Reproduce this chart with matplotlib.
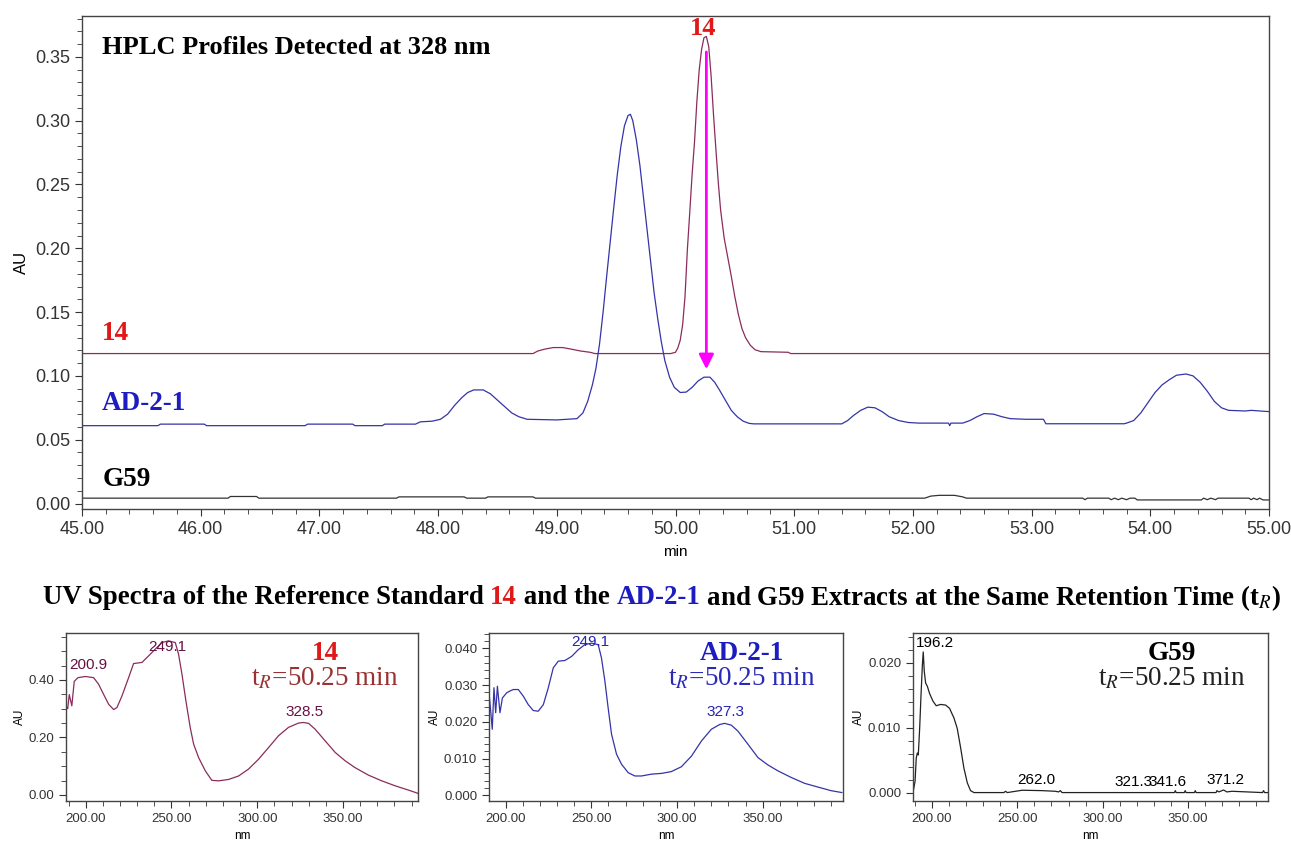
import numpy as np
import matplotlib
matplotlib.use("Agg")
import matplotlib.pyplot as plt
from matplotlib.ticker import MultipleLocator, FormatStrFormatter

plt.rcParams['font.family'] = ['Liberation Sans', 'DejaVu Sans']
plt.rcParams['mathtext.fontset'] = 'stix'

# HPLC traces at 328 nm (time in min, absorbance in AU)
t_14 = [45.0, 48.80, 48.84, 48.90, 48.97, 49.05, 49.12, 49.20, 49.28, 49.32, 49.96, 50.00, 50.02,
        50.04, 50.06, 50.08, 50.10, 50.12, 50.14, 50.16, 50.18, 50.20, 50.22, 50.24, 50.26, 50.28,
        50.30, 50.32, 50.34, 50.36, 50.38, 50.41, 50.44, 50.47, 50.50, 50.53, 50.56, 50.59, 50.63,
        50.67, 50.72, 50.95, 50.97, 55.0]
au_14 = [0.1175, 0.1175, 0.1195, 0.1210, 0.1222, 0.1222, 0.1210, 0.1195, 0.1185, 0.1175, 0.1175, 0.1185, 0.122,
         0.128, 0.140, 0.162, 0.199, 0.228, 0.258, 0.283, 0.315, 0.340, 0.356, 0.365, 0.366, 0.358,
         0.335, 0.305, 0.278, 0.252, 0.230, 0.208, 0.193, 0.178, 0.162, 0.148, 0.137, 0.130, 0.124,
         0.1205, 0.119, 0.1185, 0.1175, 0.1175]

t_ad = [45.0, 45.64, 45.66, 46.03, 46.05, 46.88, 46.90, 47.28, 47.30, 47.53, 47.55, 47.81, 47.85,
        47.95, 48.02, 48.08, 48.14, 48.20, 48.25, 48.30, 48.38, 48.44, 48.50, 48.56, 48.62, 48.68,
        48.75, 49.00, 49.17, 49.22, 49.26, 49.30, 49.33, 49.36, 49.39, 49.42, 49.45, 49.48, 49.51,
        49.54, 49.57, 49.60, 49.62, 49.64, 49.67, 49.70, 49.73, 49.76, 49.79, 49.82, 49.85, 49.88,
        49.91, 49.95, 49.99, 50.04, 50.09, 50.14, 50.19, 50.24, 50.29, 50.33, 50.37, 50.42, 50.47,
        50.52, 50.57, 50.62, 50.66, 51.40, 51.45, 51.50, 51.56, 51.62, 51.68, 51.74, 51.80, 51.88,
        51.96, 52.05, 52.30, 52.31, 52.32, 52.42, 52.48, 52.54, 52.60, 52.68, 52.75, 52.82, 52.95,
        53.10, 53.12, 53.78, 53.80, 53.86, 53.92, 53.98, 54.04, 54.10, 54.16, 54.22, 54.30, 54.36,
        54.42, 54.48, 54.54, 54.60, 54.66, 54.80, 54.85, 55.0]
au_ad = [0.061, 0.061, 0.0622, 0.0622, 0.061, 0.061, 0.0622, 0.0622, 0.061, 0.061, 0.0622, 0.0622, 0.064,
         0.0645, 0.066, 0.070, 0.077, 0.083, 0.087, 0.089, 0.089, 0.086, 0.081, 0.076, 0.071, 0.068,
         0.066, 0.0655, 0.0665, 0.071, 0.080, 0.093, 0.106, 0.125, 0.150, 0.178, 0.205, 0.232, 0.258,
         0.280, 0.296, 0.304, 0.305, 0.300, 0.285, 0.265, 0.240, 0.215, 0.190, 0.165, 0.145, 0.127,
         0.112, 0.099, 0.091, 0.087, 0.0873, 0.091, 0.096, 0.099, 0.099, 0.095, 0.089, 0.081, 0.073,
         0.068, 0.0645, 0.0628, 0.0624, 0.0624, 0.065, 0.069, 0.073, 0.0755, 0.075, 0.072, 0.068, 0.065,
         0.0635, 0.063, 0.063, 0.061, 0.063, 0.063, 0.065, 0.068, 0.0705, 0.070, 0.068, 0.0665, 0.066,
         0.066, 0.0625, 0.0625, 0.063, 0.065, 0.071, 0.079, 0.087, 0.093, 0.097, 0.1005, 0.1015, 0.100,
         0.095, 0.088, 0.080, 0.075, 0.073, 0.0725, 0.073, 0.072]

t_g59 = [45.0, 46.23, 46.25, 46.47, 46.49, 47.65, 47.67, 48.22, 48.24, 48.40, 48.42, 48.80, 48.82,
         52.10, 52.15, 52.22, 52.35, 52.42, 52.45, 53.43, 53.45, 53.47, 53.65, 53.67, 53.70, 53.73,
         53.76, 53.80, 53.83, 53.87, 53.89, 54.43, 54.45, 54.48, 54.51, 54.55, 54.57, 54.83, 54.85,
         54.87, 54.90, 54.92, 54.95, 55.0]
au_g59 = [0.0042, 0.0042, 0.0055, 0.0055, 0.0042, 0.0042, 0.0052, 0.0052, 0.0042, 0.0042, 0.0052, 0.0052, 0.0042,
          0.0042, 0.0058, 0.0064, 0.0064, 0.0052, 0.0042, 0.0042, 0.0030, 0.0042, 0.0042, 0.0030, 0.0042, 0.0030,
          0.0042, 0.0030, 0.0042, 0.0042, 0.0028, 0.0028, 0.0042, 0.0030, 0.0042, 0.0030, 0.0042, 0.0042, 0.0030,
          0.0042, 0.0030, 0.0042, 0.0028, 0.0028]

# UV spectra at tR = 50.25 min (nm, AU)
nm_14 = [188.5, 189.5, 190.4, 191.9, 193.3, 195.5, 199.8, 204.6, 207.5, 210.4, 213.4, 216.3, 218.2,
         221.1, 225.0, 227.9, 232.8, 236.7, 240.5, 244.4, 248.3, 252.2, 254.1, 256.1, 258.4, 260.9,
         262.9, 265.8, 269.7, 273.5, 277.4, 283.3, 289.1, 294.9, 300.7, 306.6, 312.4, 318.2, 324.0,
         326.9, 329.9, 333.7, 339.6, 345.4, 351.2, 357.0, 364.8, 372.6, 380.3, 388.1, 393.5]
uv_14 = [0.308, 0.300, 0.349, 0.310, 0.395, 0.408, 0.412, 0.408, 0.385, 0.350, 0.315, 0.297, 0.304,
         0.344, 0.408, 0.457, 0.461, 0.484, 0.507, 0.530, 0.536, 0.530, 0.490, 0.420, 0.327, 0.235,
         0.177, 0.130, 0.084, 0.051, 0.049, 0.054, 0.066, 0.090, 0.124, 0.165, 0.206, 0.235, 0.250,
         0.252, 0.249, 0.229, 0.188, 0.148, 0.119, 0.095, 0.069, 0.049, 0.032, 0.017, 0.006]

nm_ad = [190.3, 191.3, 192.2, 193.2, 194.2, 195.2, 196.7, 198.1, 200.6, 202.5, 204.5, 207.4, 210.3,
         213.2, 216.1, 219.0, 222.0, 224.9, 227.8, 230.7, 234.6, 238.5, 242.3, 246.2, 250.1, 254.0,
         255.9, 257.9, 259.8, 261.8, 264.7, 267.6, 271.5, 275.4, 279.2, 285.1, 290.9, 296.7, 302.5,
         308.4, 314.2, 320.0, 324.9, 327.8, 331.7, 335.5, 341.4, 347.2, 353.0, 358.8, 366.6, 374.4,
         382.1, 389.9, 396.1]
uv_ad = [0.0279, 0.0229, 0.0180, 0.0293, 0.0225, 0.0297, 0.0225, 0.0265, 0.0279, 0.0284, 0.0288, 0.0288, 0.0270,
         0.0247, 0.0231, 0.0229, 0.0247, 0.0293, 0.0347, 0.0365, 0.0367, 0.0378, 0.0396, 0.0410, 0.0414, 0.0410,
         0.0374, 0.0311, 0.0238, 0.0166, 0.0112, 0.0085, 0.0062, 0.0053, 0.0053, 0.0058, 0.0060, 0.0065, 0.0078,
         0.0107, 0.0148, 0.0180, 0.0193, 0.0196, 0.0191, 0.0175, 0.0139, 0.0103, 0.0083, 0.0067, 0.0049, 0.0033,
         0.0023, 0.0013, 0.0008]

nm_g59 = [188.9, 190.1, 190.8, 191.4, 192.0, 192.8, 193.6, 194.4, 194.9, 195.5, 196.3, 197.3, 198.6,
          200.6, 202.5, 205.1, 208.0, 210.3, 212.9, 214.8, 216.8, 218.7, 220.7, 222.6, 224.6, 242.1,
          243.1, 244.1, 252.8, 264.5, 272.3, 274.2, 275.2, 276.2, 342.0, 342.5, 343.0, 347.8, 348.3,
          348.8, 353.7, 354.2, 354.7, 366.4, 366.9, 368.0, 370.8, 372.7, 375.7, 393.6, 394.2, 394.8, 396.8]
uv_g59 = [0.0, 0.0017, 0.0053, 0.0061, 0.0058, 0.0099, 0.0151, 0.0197, 0.0217, 0.0187, 0.0169, 0.0164, 0.0153,
          0.0141, 0.0134, 0.0136, 0.0135, 0.0130, 0.0115, 0.0099, 0.0069, 0.0038, 0.0015, 0.0003, 0.0, 0.0,
          0.0002, 0.0, 0.00036, 0.0003, 0.0002, 0.0001, 0.0003, 0.0, 0.0, 0.0003, 0.0, 0.0, 0.0003,
          0.0, 0.0, 0.0003, 0.0, 0.0, 0.0003, 0.0001, 0.0004, 0.0001, 0.0002, 0.0, 0.0003, 0.0, 0.0]

peaks_14 = [(201.3, 0.452, '200.9'), (247.4, 0.516, '249.1'), (327.3, 0.288, '328.5')]
peaks_ad = [(249.2, 0.0417, '249.1'), (328.2, 0.0228, '327.3')]
peaks_g59 = [(201.8, 0.0231, '196.2'), (261.4, 0.00195, '262.0'), (317.8, 0.00165, '321.3'),
             (338.2, 0.00165, '341.6'), (371.8, 0.00195, '371.2')]

c14 = '#8a2c5c'
cad = '#3434a8'
red = '#e01818'
blue = '#1c1cc0'
serif = ['Liberation Serif', 'DejaVu Serif']
W, H = 1291, 844

fig = plt.figure(figsize=(W / 100, H / 100), dpi=100)


def style(ax, size):
    for s in ax.spines.values():
        s.set_color('#444444')
        s.set_linewidth(1.0)
    ax.tick_params(which='both', direction='out', colors='#333333', labelsize=size)
    ax.tick_params(which='major', length=5)
    ax.tick_params(which='minor', length=3.5)


# main chromatogram
ax = fig.add_axes([82 / W, 1 - 509 / H, 1187 / W, 493 / H])
ax.plot(t_14, au_14, color=c14, lw=0.9)
ax.plot(t_ad, au_ad, color=cad, lw=0.9)
ax.plot(t_g59, au_g59, color='#333333', lw=0.9)
ax.set_xlim(45, 55)
ax.set_ylim(-0.0043, 0.382)
ax.xaxis.set_major_locator(MultipleLocator(1))
ax.xaxis.set_minor_locator(MultipleLocator(0.2))
ax.yaxis.set_major_locator(MultipleLocator(0.05))
ax.yaxis.set_minor_locator(MultipleLocator(0.01))
ax.xaxis.set_major_formatter(FormatStrFormatter('%.2f'))
ax.yaxis.set_major_formatter(FormatStrFormatter('%.2f'))
style(ax, 13)
ax.set_xlabel('min', fontsize=11, labelpad=5)
ax.set_ylabel('AU', fontsize=12)

ax.text(45.17, 0.357, 'HPLC Profiles Detected at 328 nm', family=serif, weight='bold',
        fontsize=19, va='center', ha='left')
ax.text(50.235, 0.372, '14', family=serif, weight='bold', color=red, fontsize=19,
        ha='center', va='center')
ax.text(45.17, 0.133, '14', family=serif, weight='bold', color=red, fontsize=19.5, va='center')
ax.text(45.17, 0.078, 'AD-2-1', family=serif, weight='bold', color=blue, fontsize=19.5, va='center')
ax.text(45.17, 0.019, 'G59', family=serif, weight='bold', color='black', fontsize=19.5, va='center')
ax.annotate('', xy=(50.26, 0.103), xytext=(50.26, 0.356),
            arrowprops=dict(arrowstyle='-|>', color='#ff00ff', lw=2, mutation_scale=22))

# multi-coloured heading for the spectra
parts = [('UV Spectra of the Reference Standard ', 'black'), ('14', red),
         (' and the ', 'black'), ('AD-2-1', blue),
         (' and G59 Extracts at the Same Retention Time (t$_{R}$)', 'black')]
fig.canvas.draw()
rend = fig.canvas.get_renderer()
objs = []
for s, c in parts:
    objs.append(fig.text(0, 1 - 598 / H, s, color=c, family=serif, weight='bold',
                         fontsize=19.4, va='center'))
widths = [o.get_window_extent(renderer=rend).width for o in objs]
x = (662 - sum(widths) / 2) / W
for o, w in zip(objs, widths):
    o.set_x(x)
    x += w / W

# spectra panels
panels = [
    (66, 352, (188.5, 393.7), (-0.021, 0.565), nm_14, uv_14, c14, peaks_14, '#661144',
     0.20, 0.05, '%.2f', 325, '14', red, '#993333'),
    (489, 354, (190.3, 396.8), (-0.0015, 0.0443), nm_ad, uv_ad, cad, peaks_ad, '#2424b0',
     0.010, 0.002, '%.3f', 742, 'AD-2-1', blue, '#2a2ab8'),
    (913, 355, (188.9, 396.8), (-0.0013, 0.0247), nm_g59, uv_g59, '#222222', peaks_g59, 'black',
     0.010, 0.002, '%.3f', 1172, 'G59', 'black', '#222222'),
]
for (left, width, xl, yl, xs, ys, col, pk, pcol, ymaj, ymin, yfmt,
     cx, name, ncol, tcol) in panels:
    a = fig.add_axes([left / W, 1 - 801 / H, width / W, 168.5 / H])
    a.plot(xs, ys, color=col, lw=0.9)
    a.set_xlim(*xl)
    a.set_ylim(*yl)
    a.xaxis.set_major_locator(MultipleLocator(50))
    a.xaxis.set_minor_locator(MultipleLocator(10))
    a.yaxis.set_major_locator(MultipleLocator(ymaj))
    a.yaxis.set_minor_locator(MultipleLocator(ymin))
    a.xaxis.set_major_formatter(FormatStrFormatter('%.2f'))
    a.yaxis.set_major_formatter(FormatStrFormatter(yfmt))
    style(a, 9.5)
    a.set_xlabel('nm', fontsize=8.5, labelpad=4)
    a.set_ylabel('AU', fontsize=8.5, labelpad=2)
    for px, py, lab in pk:
        a.text(px, py, lab, color=pcol, fontsize=11, ha='center', va='center')
    fig.text(cx / W, 1 - 654 / H, name, color=ncol, family=serif, weight='bold',
             fontsize=19.5, ha='center', va='center')
    fig.text(cx / W, 1 - 679 / H, 't$_{R}$=50.25 min', color=tcol, family=serif,
             fontsize=19.5, ha='center', va='center')

fig.savefig('out.png', dpi=100)
